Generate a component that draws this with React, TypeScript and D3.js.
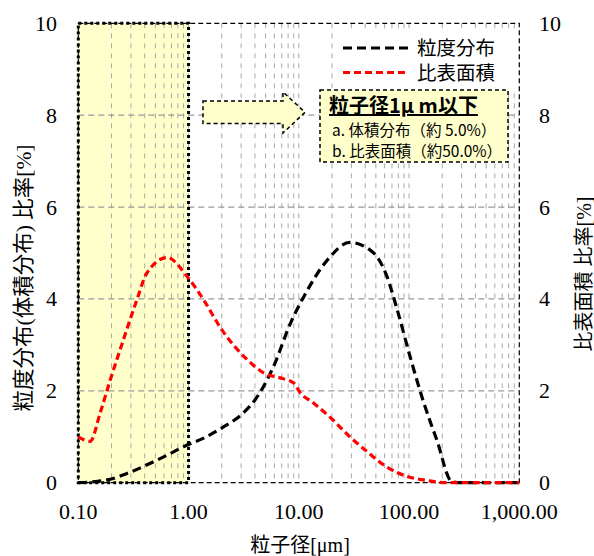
import React from 'react'
import * as d3 from 'd3'

// 粒度分布 (体積) : 粒子径 [um] -> 比率 [%]
const sizeDist = [0.1, 0.15, 0.2, 0.276, 0.42, 0.64, 0.97, 1.37, 2.0, 3.14, 4.0, 5.9, 8.4, 11.1, 18.2, 29, 47.8, 63, 78, 104, 136, 178, 245, 300, 1000]
const volDist = [0, 0.03, 0.08, 0.2, 0.39, 0.6, 0.82, 0.97, 1.19, 1.52, 1.8, 2.53, 3.47, 4.05, 4.85, 5.23, 5.0, 4.49, 3.77, 2.68, 1.74, 0.94, 0.02, 0, 0]

// 比表面積
const sizeSurf = [0.1, 0.128, 0.158, 0.195, 0.24, 0.34, 0.42, 0.64, 0.97, 1.37, 2.0, 3.4, 4.8, 7.3, 9.0, 10.3, 13.5, 20.3, 29, 41.5, 62, 95, 145, 220, 1000]
const surfDist = [1.0, 0.9, 1.52, 2.24, 2.9, 3.98, 4.57, 4.9, 4.49, 3.98, 3.33, 2.68, 2.39, 2.26, 2.17, 1.96, 1.74, 1.37, 1.0, 0.68, 0.35, 0.14, 0.05, 0, 0]

const xTicks = [0.1, 1, 10, 100, 1000]
const yTicks = [0, 2, 4, 6, 8, 10]
const legendNames = ['粒度分布', '比表面積']
const calloutTitle = '粒子径1μ m以下'
const calloutLines = ['a. 体積分布（約 5.0%）', 'b. 比表面積（約50.0%）']

const serif = '"Liberation Serif", "Times New Roman", "Noto Sans CJK JP", serif'
const gothic = '"Noto Sans CJK JP", sans-serif'

export default function App() {
  const width = 594
  const height = 556
  const x = d3.scaleLog().domain([0.1, 1000]).range([78.3, 519.3])
  const y = d3.scaleLinear().domain([0, 10]).range([482.7, 23.3])

  // minor grid positions: 1..9 in each decade
  const gridX: number[] = []
  for (let e = -1; e < 3; e++) {
    for (let m = 1; m <= 9; m++) {
      const v = m * Math.pow(10, e)
      if (v > 0.1 && v < 1000) gridX.push(v)
    }
  }

  const line = d3
    .line<[number, number]>()
    .x(d => x(d[0]))
    .y(d => y(d[1]))
    .curve(d3.curveMonotoneX)

  const volPts = sizeDist.map((d, i) => [d, volDist[i]] as [number, number])
  const surfPts = sizeSurf.map((d, i) => [d, surfDist[i]] as [number, number])

  const x0 = x(0.1)
  const x1 = x(1)
  const x2 = x(1000)
  const yTop = y(10)
  const yBot = y(0)

  // arrow shape
  const arrow = 'M203,101 L283,101 L283,92 L305,112.3 L283,133 L283,123.5 L203,123.5 Z'

  return (
    <svg width={width} height={height} style={{ position: 'absolute', left: 0, top: 0, background: '#fff' }}>
      {/* shaded region (<= 1 um) */}
      <rect x={x0} y={yTop} width={x1 - x0} height={yBot - yTop} fill="#FFFFCC" />

      {/* grid */}
      {gridX.map(v => (
        <line key={'gx' + v} x1={x(v)} x2={x(v)} y1={yTop} y2={yBot} stroke="#aaa" strokeWidth={1} strokeDasharray="5,5" />
      ))}
      {yTicks.filter(t => t > 0 && t < 10).map(t => (
        <line key={'gy' + t} x1={x0} x2={x2} y1={y(t)} y2={y(t)} stroke="#999" strokeWidth={1.2} strokeDasharray="6,4" />
      ))}

      {/* frame */}
      <rect x={x0} y={yTop} width={x2 - x0} height={yBot - yTop} fill="none" stroke="#000" strokeWidth={1.2} strokeDasharray="5,3" />
      <rect x={x0} y={yTop} width={x1 - x0} height={yBot - yTop} fill="none" stroke="#000" strokeWidth={3} strokeDasharray="3,3" />

      {/* curves */}
      <path d={line(volPts) || ''} fill="none" stroke="#000" strokeWidth={3.2} strokeDasharray="9,5" />
      <path d={line(surfPts) || ''} fill="none" stroke="#FF0000" strokeWidth={3.2} strokeDasharray="7,4" />

      {/* tick labels */}
      {yTicks.map(t => (
        <text key={'yl' + t} x={57} y={y(t) + 7.5} textAnchor="end" fontFamily={serif} fontSize={22}>{t}</text>
      ))}
      {yTicks.map(t => (
        <text key={'yr' + t} x={539} y={y(t) + 7.5} textAnchor="start" fontFamily={serif} fontSize={22}>{t}</text>
      ))}
      {xTicks.map(t => (
        <text key={'xl' + t} x={x(t)} y={519} textAnchor="middle" fontFamily={serif} fontSize={22}>{d3.format(',.2f')(t)}</text>
      ))}

      {/* axis titles */}
      <text x={300} y={552} textAnchor="middle" fontFamily={serif} fontSize={20}>粒子径[μm]</text>
      <text transform="translate(31,278) rotate(-90)" textAnchor="middle" fontFamily={serif} fontSize={21.5}>粒度分布(体積分布) 比率[%]</text>
      <text transform="translate(591,274) rotate(-90)" textAnchor="middle" fontFamily={serif} fontSize={20}>比表面積 比率[%]</text>

      {/* legend */}
      <rect x={334} y={30} width={184} height={58} fill="#fff" />
      <line x1={343} x2={408} y1={48} y2={48} stroke="#000" strokeWidth={3.2} strokeDasharray="9,5" />
      <text x={417} y={55} fontFamily={gothic} fontSize={19.5}>{legendNames[0]}</text>
      <line x1={343} x2={408} y1={72.5} y2={72.5} stroke="#FF0000" strokeWidth={3.2} strokeDasharray="7,4" />
      <text x={417} y={79.5} fontFamily={gothic} fontSize={19.5}>{legendNames[1]}</text>

      {/* arrow */}
      <path d={arrow} fill="#FFFFCC" stroke="#000" strokeWidth={1.5} strokeDasharray="4,3" />

      {/* callout */}
      <rect x={320} y={90} width={188} height={72} fill="#FFFFCC" stroke="#000" strokeWidth={1.5} strokeDasharray="4,3" />
      <text x={329} y={113} fontFamily={gothic} fontSize={20} fontWeight="bold" textDecoration="underline">{calloutTitle}</text>
      {calloutLines.map((s, i) => (
        <text key={s} x={332} y={136 + i * 21} fontFamily={gothic} fontSize={15.5}>{s}</text>
      ))}
    </svg>
  )
}
